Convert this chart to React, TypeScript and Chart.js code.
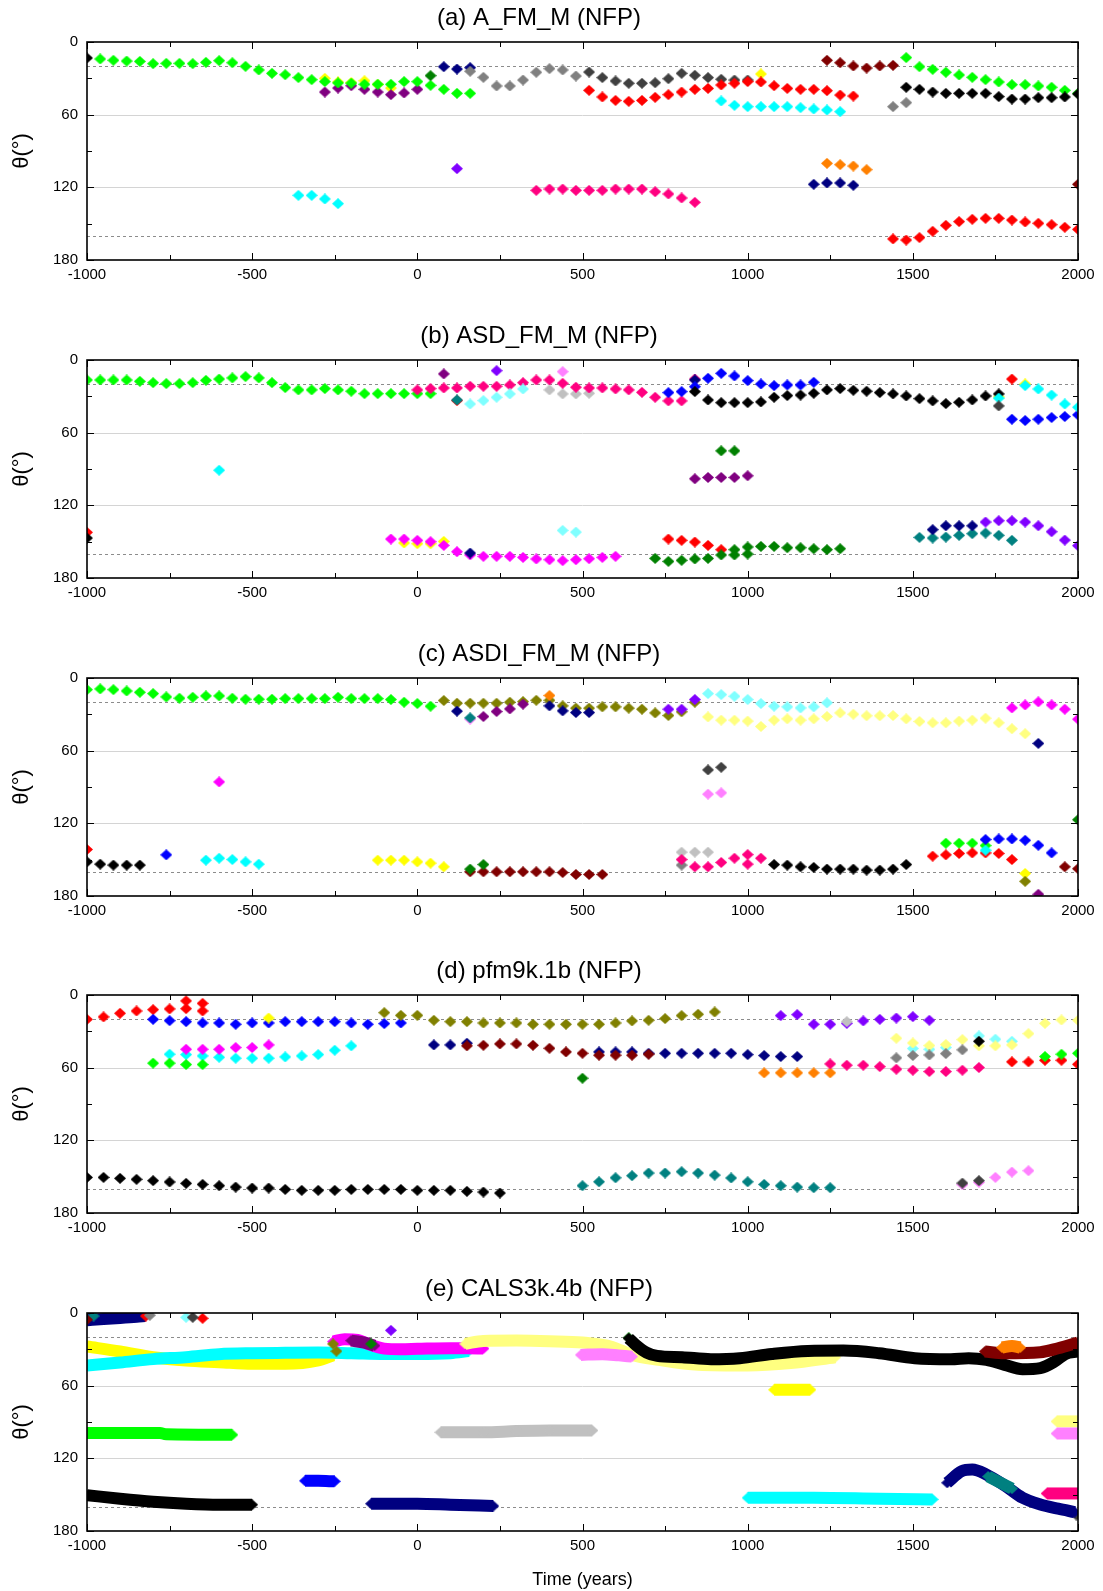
import React, { useEffect, useRef } from "react";
import { Chart, registerables } from "chart.js";

Chart.register(...registerables);

const FONT = "'Liberation Sans', Arial, Helvetica, sans-serif";

// ---------- axis ticks ----------
const X_MIN = -1000;
const X_MAX = 2000;
const X_STEP = 500;
const Y_MIN = 0;
const Y_MAX = 180;
const Y_STEP = 60;
const GRID_LINES = [60, 120];
const DASHED_LINES = [20, 160];

// ---------- colours ----------
const COLORS: Record<string, string> = {
  black: "#000000",
  red: "#FF0000",
  green: "#00FF00",
  blue: "#0000FF",
  cyan: "#00FFFF",
  magenta: "#FF00FF",
  yellow: "#FFFF00",
  olive: "#808000",
  navy: "#000080",
  purple: "#800080",
  wine: "#800000",
  dkgreen: "#008000",
  teal: "#008080",
  violet: "#8000FF",
  orange: "#FF8000",
  rose: "#FF0080",
  gray: "#808080",
  ltgray: "#C0C0C0",
  dkgray: "#404040",
  ltcyan: "#80FFFF",
  ltyellow: "#FFFF80",
  ltmagenta: "#FF80FF",
};

type P = [number, number][];

// ================= (a) A_FM_M =================
const A_BLACK: P = [[-1000,13.2],[1480,37.4],[1520,39.1],[1560,41.3],[1600,42.4],[1640,42.4],[1680,42.4],[1720,42.4],[1760,45.1],[1800,47.1],[1840,47.1],[1880,46.0],[1920,46.0],[1960,45.4],[2000,42.9]];
const A_YELLOW: P = [[-280,30.0],[-240,33.0],[-200,33.5],[-160,32.0],[-120,35.0],[-80,38.0],[1040,26.4]];
const A_PURPLE: P = [[-280,41.3],[-240,38.0],[-200,36.1],[-160,39.1],[-120,41.3],[-80,43.5],[-40,42.1],[0,39.1]];
const A_GREEN: P = [[-960,14.0],[-920,15.1],[-880,15.7],[-840,16.0],[-800,17.9],[-760,17.6],[-720,17.6],[-680,17.9],[-640,16.8],[-600,15.4],[-560,17.1],[-520,20.1],[-480,23.1],[-440,25.9],[-400,27.0],[-360,29.4],[-320,31.1],[-280,32.7],[-240,33.8],[-200,34.0],[-160,34.9],[-120,34.9],[-80,34.9],[-40,32.7],[0,32.7],[40,35.8],[80,39.1],[120,42.4],[160,42.4],[1480,12.9],[1520,20.4],[1560,22.6],[1600,25.0],[1640,27.2],[1680,29.2],[1720,31.1],[1760,33.0],[1800,35.2],[1840,35.2],[1880,36.3],[1920,37.4],[1960,39.9],[2000,42.4]];
const A_DKGREEN: P = [[40,27.8]];
const A_NAVY: P = [[80,20.4],[120,22.3],[160,21.2],[1200,117.5],[1240,116.4],[1280,116.4],[1320,118.3]];
const A_GRAY: P = [[160,24.2],[200,29.2],[240,36.3],[280,36.3],[320,31.4],[360,25.0],[400,22.0],[440,23.1],[480,28.1],[1440,53.4],[1480,50.1]];
const A_DKGRAY: P = [[520,24.8],[560,29.4],[600,32.2],[640,34.1],[680,34.1],[720,33.6],[760,30.3],[800,25.9],[840,27.5],[880,29.4],[920,30.8],[960,31.4],[1000,31.4]];
const A_RED: P = [[520,39.9],[560,45.4],[600,48.2],[640,49.0],[680,48.2],[720,45.7],[760,43.5],[800,41.3],[840,39.1],[880,38.3],[920,35.5],[960,34.1],[1000,32.7],[1040,33.0],[1080,36.1],[1120,38.3],[1160,39.1],[1200,39.1],[1240,40.2],[1280,43.8],[1320,44.6],[1440,162.6],[1480,163.5],[1520,161.5],[1560,156.3],[1600,151.4],[1640,148.3],[1680,146.4],[1720,145.6],[1760,145.6],[1800,147.0],[1840,148.6],[1880,149.7],[1920,150.8],[1960,153.0],[2000,154.7]];
const A_CYAN: P = [[-360,126.6],[-320,126.6],[-280,129.6],[-240,133.5],[920,48.7],[960,52.3],[1000,53.4],[1040,53.4],[1080,53.4],[1120,53.4],[1160,54.2],[1200,55.3],[1240,56.1],[1280,57.5]];
const A_VIOLET: P = [[120,104.6]];
const A_ROSE: P = [[360,122.5],[400,121.4],[440,121.4],[480,122.5],[520,122.5],[560,122.5],[600,121.4],[640,121.4],[680,121.4],[720,123.6],[760,125.5],[800,128.8],[840,132.4]];
const A_WINE: P = [[1240,15.1],[1280,17.1],[1320,19.8],[1360,21.5],[1400,19.8],[1440,19.3],[2000,117.5]];
const A_ORANGE: P = [[1240,100.2],[1280,101.3],[1320,102.4],[1360,105.4]];

// ================= (b) ASD_FM_M =================
const B_GREEN: P = [[-1000,16.5],[-960,16.5],[-920,16.5],[-880,16.5],[-840,17.6],[-800,18.7],[-760,19.5],[-720,19.5],[-680,18.7],[-640,16.8],[-600,15.7],[-560,14.8],[-520,13.7],[-480,14.8],[-440,18.7],[-400,22.8],[-360,24.7],[-320,24.7],[-280,23.6],[-240,24.7],[-200,25.8],[-160,27.8],[-120,27.8],[-80,27.8],[-40,27.8],[0,27.8],[40,27.8]];
const B_RED: P = [[-1000,142.3],[120,33.5],[760,147.8],[800,148.9],[840,150.3],[880,153.1],[920,156.6],[1800,15.7]];
const B_BLACK: P = [[-1000,147.0],[840,26.1],[880,33.0],[920,35.2],[960,35.2],[1000,35.2],[1040,34.6],[1080,30.8],[1120,29.4],[1160,28.9],[1200,27.5],[1240,24.7],[1280,23.6],[1320,25.0],[1360,25.8],[1400,26.9],[1440,28.0],[1480,29.7],[1520,31.9],[1560,33.8],[1600,36.0],[1640,34.9],[1680,33.0],[1720,29.7],[1760,28.0]];
const B_CYAN: P = [[-600,91.0],[1760,31.5],[1840,21.2],[1880,23.9],[1920,28.9],[1960,36.3],[2000,39.0]];
const B_ROSE: P = [[0,24.7],[40,23.6],[80,23.1],[120,23.1],[160,21.7],[200,21.7],[240,21.7],[280,20.6],[320,18.7],[360,16.5],[400,16.5],[440,19.2],[480,22.5],[520,23.1],[560,23.1],[600,23.9],[640,24.7],[680,26.7],[720,30.8],[760,33.8],[800,33.8],[840,15.7]];
const B_PURPLE: P = [[80,11.5],[840,98.1],[880,97.0],[920,97.0],[960,97.0],[1000,95.6]];
const B_VIOLET: P = [[240,8.8],[1720,133.8],[1760,132.7],[1800,132.7],[1840,133.8],[1880,136.9],[1920,141.8],[1960,148.7],[2000,153.3]];
const B_LTMAGENTA: P = [[440,9.6]];
const B_TEAL: P = [[120,33.0],[1520,146.5],[1560,147.0],[1600,146.2],[1640,144.8],[1680,143.4],[1720,142.9],[1760,144.8],[1800,148.9]];
const B_LTCYAN: P = [[160,36.3],[200,33.5],[240,30.8],[280,28.0],[320,23.9],[440,140.7],[480,142.1]];
const B_LTGRAY: P = [[400,24.7],[440,28.0],[480,28.0],[520,27.5]];
const B_YELLOW: P = [[-40,151.1],[0,151.7],[40,151.7],[80,149.8],[1760,30.5],[1840,19.8]];
const B_MAGENTA: P = [[-80,147.8],[-40,147.8],[0,148.9],[40,150.0],[80,153.1],[120,158.3],[160,161.0],[200,162.1],[240,162.1],[280,162.1],[320,163.0],[360,164.3],[400,164.9],[440,165.7],[480,164.9],[520,164.1],[560,163.0],[600,162.1]];
const B_NAVY: P = [[160,159.4],[840,16.5],[1560,140.1],[1600,136.9],[1640,136.9],[1680,136.9]];
const B_BLUE: P = [[760,26.9],[800,26.1],[840,22.0],[880,15.1],[920,11.0],[960,13.2],[1000,17.0],[1040,19.8],[1080,21.2],[1120,20.6],[1160,20.6],[1200,18.4],[1800,48.9],[1840,50.0],[1880,48.9],[1920,47.5],[1960,46.7],[2000,45.3]];
const B_DKGRAY: P = [[1760,37.9]];
const B_DKGREEN: P = [[920,75.0],[960,75.0],[720,163.8],[760,166.3],[800,165.4],[840,164.3],[880,163.8],[920,161.0],[960,161.0],[1000,160.2],[960,156.6],[1000,154.4],[1040,153.9],[1080,153.9],[1120,155.0],[1160,155.0],[1200,155.8],[1240,156.6],[1280,155.8]];

// ================= (c) ASDI_FM_M =================
const C_GREEN: P = [[-1000,9.6],[-960,9.0],[-920,9.6],[-880,10.7],[-840,11.8],[-800,12.9],[-760,15.6],[-720,16.7],[-680,15.9],[-640,14.8],[-600,14.8],[-560,16.7],[-520,17.5],[-480,17.5],[-440,17.5],[-400,17.0],[-360,17.0],[-320,17.0],[-280,17.0],[-240,15.9],[-200,17.0],[-160,17.0],[-120,17.0],[-80,17.8],[-40,20.0],[0,21.1],[40,23.3],[1600,136.4],[1640,136.4],[1680,136.4],[1720,138.4]];
const C_RED: P = [[-1000,141.6],[1560,147.1],[1600,146.0],[1640,144.9],[1680,144.4],[1720,144.4],[1760,144.9],[1800,149.9]];
const C_BLACK: P = [[-1000,151.8],[-960,153.7],[-920,154.5],[-880,154.5],[-840,154.5],[1080,154.0],[1120,154.5],[1160,155.9],[1200,156.4],[1240,157.8],[1280,157.8],[1320,157.8],[1360,158.6],[1400,158.6],[1440,157.8],[1480,154.0]];
const C_BLUE: P = [[-760,146.0],[1720,133.4],[1760,132.9],[1800,132.9],[1840,134.0],[1880,138.1],[1920,144.4]];
const C_MAGENTA: P = [[-600,85.8],[1800,24.7],[1840,22.2],[1880,19.7],[1920,22.2],[1960,25.8],[2000,34.0]];
const C_CYAN: P = [[-640,150.4],[-600,148.8],[-560,149.9],[-520,151.8],[-480,153.7],[1720,142.2]];
const C_YELLOW: P = [[-120,150.4],[-80,150.4],[-40,150.4],[0,151.8],[40,152.9],[80,155.9],[1840,161.4]];
const C_OLIVE: P = [[80,18.6],[120,20.8],[160,20.8],[200,20.8],[240,20.8],[280,20.0],[320,19.5],[360,18.4],[400,18.4],[440,23.0],[480,24.9],[520,24.9],[560,23.8],[600,23.8],[640,24.9],[680,25.8],[720,28.8],[760,31.0],[800,27.9],[840,20.0],[1840,167.9]];
const C_NAVY: P = [[120,27.4],[400,23.0],[440,27.1],[480,28.5],[520,28.5],[1880,54.0]];
const C_LTMAGENTA: P = [[160,34.0],[880,95.9],[920,94.8]];
const C_TEAL: P = [[160,32.9]];
const C_PURPLE: P = [[200,31.8],[240,27.7],[280,25.5],[320,21.6],[1880,178.6]];
const C_ORANGE: P = [[400,14.5]];
const C_VIOLET: P = [[760,25.8],[800,25.8],[840,17.8]];
const C_WINE: P = [[160,160.0],[200,160.0],[240,160.0],[280,160.0],[320,160.0],[360,160.0],[400,160.0],[440,160.6],[480,162.2],[520,162.2],[560,162.2],[1960,155.9],[2000,157.5]];
const C_DKGREEN: P = [[160,157.8],[200,154.0],[2000,117.0]];
const C_LTCYAN: P = [[880,12.9],[920,13.7],[960,15.1],[1000,17.8],[1040,21.1],[1080,23.3],[1120,23.8],[1160,24.7],[1200,23.8],[1240,20.5]];
const C_LTYELLOW: P = [[880,32.1],[920,34.8],[960,34.8],[1000,35.6],[1040,40.0],[1080,34.8],[1120,33.7],[1160,34.8],[1200,33.7],[1240,31.8],[1280,28.8],[1320,29.9],[1360,31.2],[1400,31.2],[1440,31.0],[1480,33.7],[1520,35.9],[1560,37.0],[1600,37.0],[1640,35.6],[1680,34.8],[1720,33.2],[1760,37.0],[1800,41.9],[1840,46.0]];
const C_DKGRAY: P = [[880,75.9],[920,73.7]];
const C_LTGRAY: P = [[800,143.8],[840,143.8],[880,143.8]];
const C_GRAY: P = [[800,154.5]];
const C_ROSE: P = [[800,149.9],[840,155.9],[880,155.9],[920,152.3],[960,148.8],[1000,145.8],[1000,153.7],[1040,148.8]];

// ================= (d) pfm9k.1b =================
const D_RED: P = [[-1000,20.1],[-950,18.1],[-900,15.1],[-850,13.2],[-800,12.1],[-750,11.5],[-700,4.9],[-700,11.3],[-650,6.9],[-650,13.2],[1800,55.2],[1850,55.2],[1900,53.9],[1950,53.9],[2000,57.2]];
const D_BLUE: P = [[-800,20.1],[-750,21.2],[-700,22.0],[-650,23.1],[-600,23.1],[-550,24.2],[-500,23.1],[-450,23.1],[-400,22.0],[-350,22.0],[-300,22.0],[-250,22.0],[-200,23.1],[-150,24.2],[-100,23.6],[-50,23.1]];
const D_YELLOW: P = [[-450,19.0]];
const D_CYAN: P = [[-750,48.9],[-700,49.2],[-650,50.3],[-600,51.4],[-550,52.2],[-500,52.2],[-450,52.2],[-400,51.1],[-350,50.3],[-300,49.2],[-250,45.6],[-200,42.0]];
const D_MAGENTA: P = [[-700,44.8],[-650,44.8],[-600,44.8],[-550,43.4],[-500,43.4],[-450,41.2]];
const D_GREEN: P = [[-800,56.3],[-750,56.3],[-700,57.4],[-650,57.4],[1900,50.8],[1950,48.9],[2000,48.1]];
const D_BLACK: P = [[-1000,150.6],[-950,150.6],[-900,151.4],[-850,152.2],[-800,153.3],[-750,154.4],[-700,155.5],[-650,156.4],[-600,157.5],[-550,158.6],[-500,159.4],[-450,159.4],[-400,160.5],[-350,161.3],[-300,161.3],[-250,161.3],[-200,160.5],[-150,160.5],[-100,160.5],[-50,160.5],[0,161.3],[50,161.3],[100,161.3],[150,162.1],[200,162.7],[250,163.5],[1700,38.2]];
const D_OLIVE: P = [[-100,14.6],[-50,16.8],[0,16.8],[50,20.9],[100,22.0],[150,22.0],[200,23.1],[250,23.1],[300,23.1],[350,24.2],[400,24.2],[450,24.2],[500,24.2],[550,24.2],[600,23.1],[650,21.4],[700,20.9],[750,19.5],[800,17.0],[850,15.9],[900,14.0]];
const D_NAVY: P = [[50,41.2],[100,41.2],[150,39.8],[550,47.0],[600,47.0],[650,47.0],[700,48.1],[750,48.1],[800,48.1],[850,48.1],[900,48.1],[950,48.1],[1000,49.2],[1050,50.0],[1100,50.8],[1150,50.8]];
const D_WINE: P = [[150,42.0],[200,41.5],[250,40.4],[300,40.4],[350,41.5],[400,44.0],[450,47.0],[500,48.1],[550,49.7],[600,49.7],[650,49.7],[700,48.9]];
const D_DKGREEN: P = [[500,68.7]];
const D_TEAL: P = [[500,157.5],[550,154.2],[600,150.9],[650,149.2],[700,147.0],[750,147.0],[800,145.9],[850,147.0],[900,148.7],[950,151.1],[1000,154.2],[1050,156.4],[1100,157.5],[1150,158.6],[1200,159.1],[1250,159.1]];
const D_ORANGE: P = [[1050,64.3],[1100,64.3],[1150,64.3],[1200,64.3],[1250,64.3]];
const D_VIOLET: P = [[1100,17.0],[1150,16.2],[1200,24.2],[1250,24.2],[1300,23.4],[1350,21.4],[1400,20.1],[1450,19.0],[1500,17.9],[1550,20.9]];
const D_LTGRAY: P = [[1300,22.0]];
const D_ROSE: P = [[1250,56.9],[1300,58.0],[1350,58.0],[1400,59.1],[1450,61.3],[1500,62.1],[1550,63.2],[1600,63.2],[1650,62.1],[1700,59.9]];
const D_LTCYAN: P = [[1500,44.2],[1550,44.8],[1600,43.4],[1700,33.8],[1750,36.5],[1800,38.2]];
const D_LTYELLOW: P = [[1450,35.7],[1500,39.6],[1550,41.8],[1600,40.9],[1650,36.8],[1700,42.0],[1750,42.0],[1800,41.2],[1850,31.9],[1900,23.4],[1950,20.6],[2000,20.9]];
const D_GRAY: P = [[1450,51.9],[1500,50.0],[1550,49.5],[1600,48.4],[1650,45.3]];
const D_LTMAGENTA: P = [[1650,156.6],[1700,154.7],[1750,150.6],[1800,146.2],[1850,145.1]];
const D_DKGRAY: P = [[1650,155.3],[1700,153.3]];

// ================= (e) CALS3k.4b =================
const E_NAVY_TOP: P = [[-1000,6.0],[-950,5.0],[-900,4.2],[-850,3.2],[-825,2.5]];
const E_TEAL_DOT: P = [[-980,2.5]];
const E_WINE_DOT: P = [[-1000,5.5]];
const E_RED_DOT: P = [[-822,2.5],[-650,4.4]];
const E_GRAY_DOT: P = [[-810,1.9]];
const E_LTCYAN_DOT: P = [[-700,3.6]];
const E_DKGRAY_DOT: P = [[-680,3.6],[1995,166.8]];
const E_VIOLET_DOT: P = [[-80,14.3]];
const E_YELLOW: P = [[-1000,27.7],[-900,31.8],[-800,36.5],[-700,39.2],[-600,40.6],[-500,42.0],[-400,42.0],[-300,39.2],[-255,35.0]];
const E_CYAN: P = [[-1000,43.4],[-900,40.9],[-800,38.1],[-700,36.5],[-600,34.0],[-500,33.2],[-400,32.9],[-300,32.7],[-200,33.2],[-100,33.8],[0,33.8],[100,33.2],[155,31.5]];
const E_MAGENTA: P = [[-255,23.6],[-220,21.7],[-180,22.2],[-150,25.5],[-100,29.4],[-50,29.9],[0,29.6],[100,29.1],[150,29.1],[200,29.4]];
const E_PURPLE: P = [[-200,22.8],[-160,24.5],[-130,27.0]];
const E_OLIVE_DOT: P = [[-255,25.5],[-245,31.5]];
const E_DKGREEN_DOT: P = [[-140,25.5],[640,20.5]];
const E_LTYELLOW: P = [[145,25.5],[200,23.1],[300,22.8],[400,23.3],[500,24.4],[590,28.0],[650,34.6],[730,38.7],[850,42.8],[1000,43.4],[1130,41.4],[1265,36.5]];
const E_LTMAGENTA: P = [[495,34.6],[560,34.0],[610,35.0],[650,36.0]];
const E_BLACK: P = [[640,20.9],[661,26.3],[694,32.7],[726,35.4],[802,36.5],[889,38.1],[976,37.3],[1073,33.8],[1182,31.3],[1290,31.0],[1398,33.2],[1506,37.3],[1615,38.1],[1669,37.3],[1723,38.7],[1778,42.8],[1832,46.4],[1886,45.5],[1929,40.1],[1962,33.8],[2000,31.8]];
const E_WINE: P = [[1718,31.8],[1778,33.2],[1886,32.4],[1940,29.1],[2000,24.4]];
const E_ORANGE: P = [[1770,28.5],[1800,27.2],[1825,28.5]];
const E_LTYELLOW2: P = [[1935,89.5],[2000,89.5]];
const E_LTMAGENTA2: P = [[1935,99.5],[2000,99.5]];
const E_YELLOW2: P = [[1080,63.4],[1190,63.4]];
const E_LTGRAY: P = [[70,98.5],[200,98.5],[300,97.5],[400,97.0],[530,97.0]];
const E_GREEN: P = [[-1000,99.0],[-780,99.0],[-760,100.2],[-560,100.6]];
const E_BLUE: P = [[-340,138.6],[-300,138.6],[-250,139.0]];
const E_BLACK2: P = [[-1000,150.4],[-900,153.4],[-800,155.9],[-700,157.5],[-600,158.3],[-500,158.3]];
const E_NAVY2: P = [[-140,157.5],[0,157.5],[100,158.3],[230,159.4]];
const E_CYAN2: P = [[1000,152.6],[1200,152.6],[1400,153.4],[1560,153.9]];
const E_NAVY3: P = [[1604,140.2],[1648,130.6],[1680,129.2],[1723,133.4],[1778,142.4],[1832,152.6],[1886,158.1],[1940,161.6],[1990,164.4]];
const E_TEAL: P = [[1728,135.0],[1800,145.0]];
const E_ROSE: P = [[1905,149.0],[2000,149.0]];

type Series = { d: P; c: string; band?: boolean };

// series listed bottom-to-top (later entries drawn over earlier ones)
const PANELS: { title: string; series: Series[] }[] = [
  {
    title: "(a) A_FM_M (NFP)",
    series: [
      { d: A_YELLOW, c: "yellow" }, { d: A_PURPLE, c: "purple" }, { d: A_GREEN, c: "green" },
      { d: A_BLACK, c: "black" }, { d: A_DKGREEN, c: "dkgreen" }, { d: A_NAVY, c: "navy" },
      { d: A_GRAY, c: "gray" }, { d: A_DKGRAY, c: "dkgray" }, { d: A_RED, c: "red" },
      { d: A_CYAN, c: "cyan" }, { d: A_VIOLET, c: "violet" }, { d: A_ROSE, c: "rose" },
      { d: A_WINE, c: "wine" }, { d: A_ORANGE, c: "orange" },
    ],
  },
  {
    title: "(b) ASD_FM_M (NFP)",
    series: [
      { d: B_GREEN, c: "green" }, { d: B_RED, c: "red" }, { d: B_LTGRAY, c: "ltgray" },
      { d: B_ROSE, c: "rose" }, { d: B_PURPLE, c: "purple" }, { d: B_VIOLET, c: "violet" },
      { d: B_LTMAGENTA, c: "ltmagenta" }, { d: B_TEAL, c: "teal" }, { d: B_LTCYAN, c: "ltcyan" },
      { d: B_YELLOW, c: "yellow" }, { d: B_MAGENTA, c: "magenta" }, { d: B_NAVY, c: "navy" },
      { d: B_BLUE, c: "blue" }, { d: B_BLACK, c: "black" }, { d: B_CYAN, c: "cyan" },
      { d: B_DKGRAY, c: "dkgray" }, { d: B_DKGREEN, c: "dkgreen" },
    ],
  },
  {
    title: "(c) ASDI_FM_M (NFP)",
    series: [
      { d: C_GREEN, c: "green" }, { d: C_RED, c: "red" }, { d: C_BLACK, c: "black" },
      { d: C_BLUE, c: "blue" }, { d: C_MAGENTA, c: "magenta" }, { d: C_CYAN, c: "cyan" },
      { d: C_YELLOW, c: "yellow" }, { d: C_OLIVE, c: "olive" }, { d: C_NAVY, c: "navy" },
      { d: C_LTMAGENTA, c: "ltmagenta" }, { d: C_TEAL, c: "teal" }, { d: C_PURPLE, c: "purple" },
      { d: C_ORANGE, c: "orange" }, { d: C_VIOLET, c: "violet" }, { d: C_WINE, c: "wine" },
      { d: C_DKGREEN, c: "dkgreen" }, { d: C_LTCYAN, c: "ltcyan" }, { d: C_LTYELLOW, c: "ltyellow" },
      { d: C_DKGRAY, c: "dkgray" }, { d: C_LTGRAY, c: "ltgray" }, { d: C_GRAY, c: "gray" },
      { d: C_ROSE, c: "rose" },
    ],
  },
  {
    title: "(d) pfm9k.1b (NFP)",
    series: [
      { d: D_RED, c: "red" }, { d: D_BLUE, c: "blue" }, { d: D_YELLOW, c: "yellow" },
      { d: D_CYAN, c: "cyan" }, { d: D_MAGENTA, c: "magenta" }, { d: D_GREEN, c: "green" },
      { d: D_OLIVE, c: "olive" }, { d: D_NAVY, c: "navy" }, { d: D_WINE, c: "wine" },
      { d: D_DKGREEN, c: "dkgreen" }, { d: D_TEAL, c: "teal" }, { d: D_ORANGE, c: "orange" },
      { d: D_VIOLET, c: "violet" }, { d: D_LTGRAY, c: "ltgray" }, { d: D_ROSE, c: "rose" },
      { d: D_LTCYAN, c: "ltcyan" }, { d: D_LTYELLOW, c: "ltyellow" }, { d: D_GRAY, c: "gray" },
      { d: D_BLACK, c: "black" }, { d: D_LTMAGENTA, c: "ltmagenta" }, { d: D_DKGRAY, c: "dkgray" },
    ],
  },
  {
    title: "(e) CALS3k.4b (NFP)",
    series: [
      { d: E_NAVY_TOP, c: "navy", band: true }, { d: E_TEAL_DOT, c: "teal" }, { d: E_WINE_DOT, c: "wine" },
      { d: E_RED_DOT, c: "red" }, { d: E_GRAY_DOT, c: "gray" }, { d: E_LTCYAN_DOT, c: "ltcyan" },
      { d: E_DKGRAY_DOT, c: "dkgray" }, { d: E_VIOLET_DOT, c: "violet" },
      { d: E_YELLOW, c: "yellow", band: true }, { d: E_CYAN, c: "cyan", band: true },
      { d: E_MAGENTA, c: "magenta", band: true }, { d: E_PURPLE, c: "purple", band: true },
      { d: E_OLIVE_DOT, c: "olive" }, { d: E_LTYELLOW, c: "ltyellow", band: true },
      { d: E_LTMAGENTA, c: "ltmagenta", band: true }, { d: E_DKGREEN_DOT, c: "dkgreen" },
      { d: E_BLACK, c: "black", band: true }, { d: E_WINE, c: "wine", band: true },
      { d: E_ORANGE, c: "orange", band: true }, { d: E_LTYELLOW2, c: "ltyellow", band: true },
      { d: E_LTMAGENTA2, c: "ltmagenta", band: true }, { d: E_YELLOW2, c: "yellow", band: true },
      { d: E_LTGRAY, c: "ltgray", band: true }, { d: E_GREEN, c: "green", band: true },
      { d: E_BLUE, c: "blue", band: true }, { d: E_BLACK2, c: "black", band: true },
      { d: E_NAVY2, c: "navy", band: true }, { d: E_CYAN2, c: "cyan", band: true },
      { d: E_NAVY3, c: "navy", band: true }, { d: E_TEAL, c: "teal", band: true },
      { d: E_ROSE, c: "rose", band: true },
    ],
  },
];

const PANEL_TOPS = [0, 318, 636, 953, 1271];
const PANEL_HEIGHTS = [318, 318, 317, 318, 320];
const PLOT_BOTTOM = 260;

const diamondCache: Record<string, HTMLCanvasElement> = {};
function diamond(color: string): HTMLCanvasElement {
  if (diamondCache[color]) return diamondCache[color];
  const c = document.createElement("canvas");
  c.width = 12;
  c.height = 11;
  const g = c.getContext("2d")!;
  g.fillStyle = color;
  g.beginPath();
  g.moveTo(6, 0);
  g.lineTo(12, 5.5);
  g.lineTo(6, 11);
  g.lineTo(0, 5.5);
  g.closePath();
  g.fill();
  diamondCache[color] = c;
  return c;
}

const framePlugin = {
  id: "frame",
  beforeDatasetsDraw(chart: any) {
    const { ctx, chartArea: a, scales } = chart;
    const y = scales.y;
    ctx.save();
    ctx.lineWidth = 1;
    ctx.strokeStyle = "#d4d4d4";
    GRID_LINES.forEach((v) => {
      const py = Math.round(y.getPixelForValue(v)) + 0.5;
      ctx.beginPath();
      ctx.moveTo(a.left, py);
      ctx.lineTo(a.right, py);
      ctx.stroke();
    });
    ctx.strokeStyle = "#8c8c8c";
    ctx.setLineDash([3, 3]);
    DASHED_LINES.forEach((v) => {
      const py = Math.round(y.getPixelForValue(v)) + 0.5;
      ctx.beginPath();
      ctx.moveTo(a.left, py);
      ctx.lineTo(a.right, py);
      ctx.stroke();
    });
    ctx.restore();
  },
  afterDatasetsDraw(chart: any) {
    const { ctx, chartArea: a, scales } = chart;
    const x = scales.x;
    const y = scales.y;
    ctx.save();
    ctx.strokeStyle = "#000";
    ctx.lineWidth = 1;
    for (let v = X_MIN; v <= X_MAX; v += X_STEP / 2) {
      const px = Math.round(x.getPixelForValue(v)) + 0.5;
      const len = (v - X_MIN) % X_STEP === 0 ? 7 : 5;
      ctx.beginPath();
      ctx.moveTo(px, a.top);
      ctx.lineTo(px, a.top + len);
      ctx.moveTo(px, a.bottom);
      ctx.lineTo(px, a.bottom - len);
      ctx.stroke();
    }
    for (let v = Y_MIN; v <= Y_MAX; v += Y_STEP / 2) {
      const py = Math.round(y.getPixelForValue(v)) + 0.5;
      const len = v % Y_STEP === 0 ? 7 : 5;
      ctx.beginPath();
      ctx.moveTo(a.left, py);
      ctx.lineTo(a.left + len, py);
      ctx.moveTo(a.right, py);
      ctx.lineTo(a.right - len, py);
      ctx.stroke();
    }
    ctx.lineWidth = 1.6;
    ctx.strokeRect(a.left, a.top, a.right - a.left, a.bottom - a.top);
    ctx.restore();
  },
};

function Panel({ idx }: { idx: number }) {
  const ref = useRef<HTMLCanvasElement | null>(null);
  const height = PANEL_HEIGHTS[idx];
  const last = idx === PANELS.length - 1;
  useEffect(() => {
    const panel = PANELS[idx];
    const datasets = panel.series.map((s, i) => {
      const col = COLORS[s.c];
      return {
        type: s.band ? "line" : "scatter",
        order: -i,
        data: s.d.map(([px, py]) => ({ x: px, y: py })),
        showLine: !!s.band,
        borderColor: col,
        backgroundColor: col,
        borderWidth: s.band ? 12 : 0,
        borderCapStyle: "butt",
        borderJoinStyle: "round",
        cubicInterpolationMode: "monotone",
        fill: false,
        pointStyle: diamond(col),
        pointRadius: 5,
        pointHoverRadius: 5,
        clip: 0,
      };
    });
    const chart = new Chart(ref.current!, {
      type: "scatter",
      data: { datasets } as any,
      plugins: [framePlugin],
      options: {
        animation: false,
        responsive: false,
        maintainAspectRatio: false,
        devicePixelRatio: 1,
        events: [],
        layout: { padding: { left: 0, right: 25, top: 0, bottom: 0 } },
        plugins: {
          legend: { display: false },
          tooltip: { enabled: false },
          title: {
            display: true,
            text: panel.title,
            color: "#000",
            font: { family: FONT, size: 24, weight: "normal", lineHeight: 1.2 },
            padding: { top: 4, bottom: 9.2 },
          },
        },
        scales: {
          x: {
            type: "linear",
            min: X_MIN,
            max: X_MAX,
            grid: { display: false, drawTicks: false },
            border: { display: false },
            ticks: {
              stepSize: X_STEP,
              autoSkip: false,
              maxRotation: 0,
              color: "#000",
              padding: 6,
              font: { family: FONT, size: 15 },
              callback: (v: any) => String(v),
            },
            title: {
              display: last,
              text: "Time (years)",
              color: "#000",
              font: { family: FONT, size: 18 },
              padding: { top: 0, bottom: 0 },
            },
            afterFit: (s: any) => {
              s.height = height - PLOT_BOTTOM;
            },
          },
          y: {
            type: "linear",
            reverse: true,
            min: Y_MIN,
            max: Y_MAX,
            grid: { display: false, drawTicks: false },
            border: { display: false },
            ticks: {
              stepSize: Y_STEP,
              color: "#000",
              padding: 9,
              font: { family: FONT, size: 15 },
              callback: (v: any) => String(v),
            },
            title: {
              display: true,
              text: "θ(°)",
              color: "#000",
              font: { family: FONT, size: 22 },
              padding: { top: 9, bottom: 0 },
            },
            afterFit: (s: any) => {
              s.width = 87;
            },
          },
        },
      } as any,
    });
    return () => chart.destroy();
  }, [idx, height, last]);
  return (
    <canvas
      ref={ref}
      width={1103}
      height={height}
      style={{ position: "absolute", left: 0, top: PANEL_TOPS[idx], width: 1103, height }}
    />
  );
}

export default function App() {
  return (
    <div style={{ position: "absolute", left: 0, top: 0, width: 1103, height: 1591, background: "#fff" }}>
      {PANELS.map((_, i) => (
        <Panel key={i} idx={i} />
      ))}
    </div>
  );
}
